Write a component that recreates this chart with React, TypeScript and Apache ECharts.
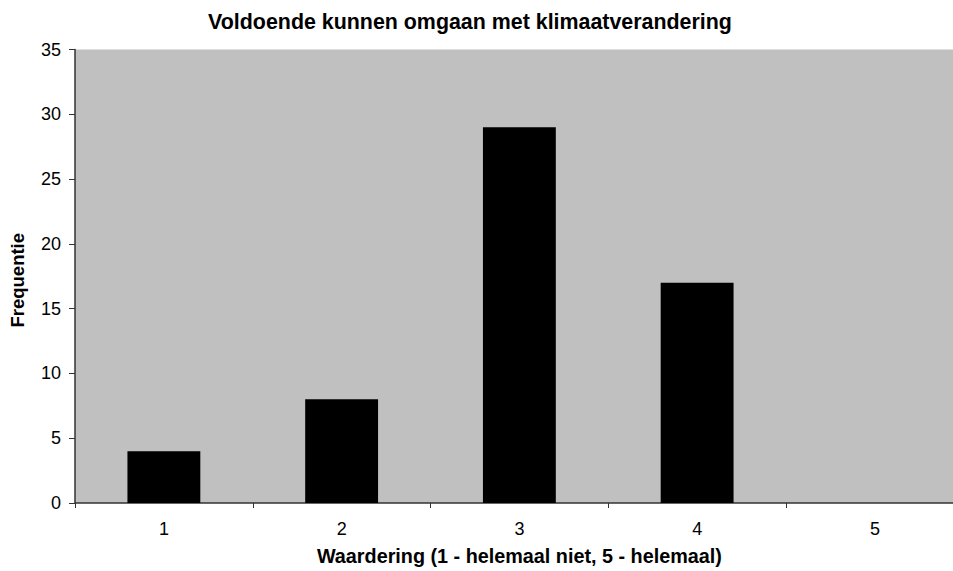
import React, { useEffect, useRef } from "react";
import * as echarts from "echarts";

const categories = ["1", "2", "3", "4", "5"];
const frequencies = [4, 8, 29, 17, 0];
const yTicks = { min: 0, max: 35, interval: 5 };

const titleText = "Voldoende kunnen omgaan met klimaatverandering";
const xName = "Waardering (1 - helemaal niet, 5 - helemaal)";
const yName = "Frequentie";

const FONT = "Arial, 'Liberation Sans', sans-serif";

export default function App() {
  const ref = useRef<HTMLDivElement>(null);
  useEffect(() => {
    if (!ref.current) return;
    const chart = echarts.init(ref.current, null, { renderer: "svg" });
    chart.setOption({
      animation: false,
      backgroundColor: "#ffffff",
      title: {
        text: titleText,
        left: 465,
        top: 6,
        textAlign: "center",
        textStyle: { fontFamily: FONT, fontSize: 21.4, fontWeight: "bold", color: "#000" },
      },
      grid: {
        left: 75,
        top: 49.5,
        width: 888.75,
        height: 456.2,
        show: true,
        backgroundColor: "#c0c0c0",
        borderWidth: 0,
      },
      xAxis: {
        type: "category",
        data: categories,
        boundaryGap: true,
        name: xName,
        nameLocation: "middle",
        nameGap: 43,
        nameTextStyle: { fontFamily: FONT, fontSize: 19.8, fontWeight: "bold", color: "#000" },
        axisLine: { show: true, lineStyle: { color: "#333", width: 1.5 } },
        axisTick: { show: true, length: 5, lineStyle: { color: "#333" } },
        axisLabel: { fontFamily: FONT, fontSize: 18, color: "#000", margin: 17 },
        splitLine: { show: false },
      },
      yAxis: {
        type: "value",
        min: yTicks.min,
        max: yTicks.max,
        interval: yTicks.interval,
        name: yName,
        nameLocation: "middle",
        nameRotate: 90,
        nameGap: 48,
        nameTextStyle: {
          fontFamily: FONT,
          fontSize: 18.5,
          fontWeight: "bold",
          color: "#000",
          padding: [0, 8, 0, 0],
        },
        axisLine: { show: true, lineStyle: { color: "#333", width: 1.5 } },
        axisTick: { show: true, length: 6, lineStyle: { color: "#333" } },
        axisLabel: { fontFamily: FONT, fontSize: 18, color: "#000", margin: 14 },
        splitLine: { show: false },
      },
      series: [
        {
          type: "bar",
          data: frequencies,
          barWidth: "41%",
          itemStyle: { color: "#000000" },
        },
      ],
    });
    return () => chart.dispose();
  }, []);
  return (
    <div
      style={{
        position: "fixed",
        left: 0,
        top: 0,
        width: 953,
        height: 571,
        overflow: "hidden",
      }}
    >
      <div ref={ref} style={{ width: 975, height: 571 }} />
    </div>
  );
}
